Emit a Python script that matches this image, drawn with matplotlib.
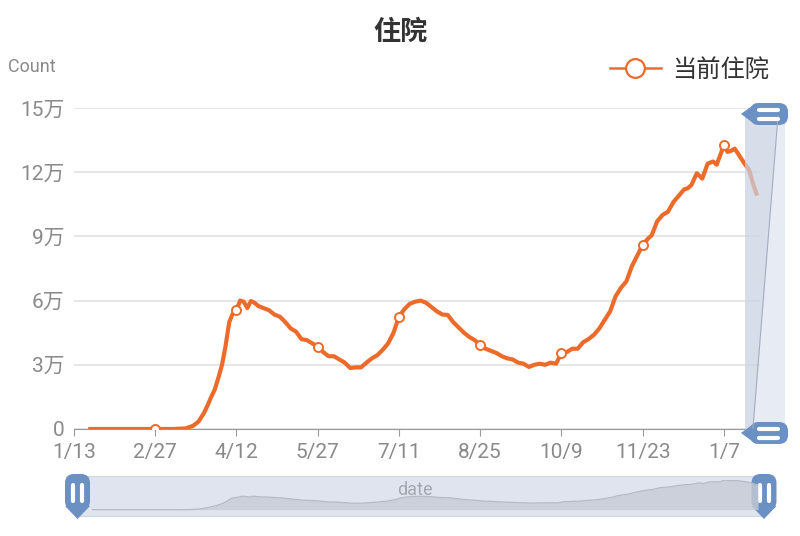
import datetime as dt
import matplotlib.pyplot as plt
from matplotlib.lines import Line2D
from matplotlib.patches import FancyBboxPatch, Rectangle, Polygon

plt.rcParams['font.family'] = ['Roboto', 'Noto Sans CJK SC', 'DejaVu Sans']

# days counted from 2020-01-13
start = dt.date(2020, 1, 13)
days = [9, 20, 30, 45, 55, 62, 66, 69, 72, 74, 76, 78, 80, 82, 84, 86, 88, 90,
        92, 94, 96, 98, 100, 102, 105, 108, 111, 114, 117, 120, 123, 126, 129,
        132, 135, 138, 141, 144, 147, 150, 153, 156, 159, 162, 165, 168, 171,
        174, 177, 180, 183, 186, 189, 192, 195, 198, 201, 204, 207, 210, 213,
        216, 219, 222, 225, 228, 231, 234, 237, 240, 243, 246, 249, 252, 255,
        258, 261, 264, 267, 270, 273, 276, 279, 282, 285, 288, 291, 294, 297,
        300, 303, 306, 309, 312, 315, 318, 320, 323, 326, 329, 332, 335, 338,
        340, 342, 345, 348, 351, 354, 356, 358, 360, 362, 364, 366, 368, 371,
        374, 376, 378]
hosp = [0, 0, 0, 0, 0, 300, 1500, 3500, 7500, 11000, 15000, 18500, 24000,
        30000, 39000, 50000, 54000, 55600, 60000, 59500, 56500, 59800, 59000,
        57500, 56500, 55500, 53500, 52500, 50000, 47000, 45500, 42000, 41500,
        40000, 38500, 36000, 34000, 34000, 32500, 31000, 28500, 28800, 28800,
        31000, 33000, 34500, 37000, 40000, 45000, 52500, 56000, 58500, 59500,
        60000, 59000, 57000, 55000, 53500, 53300, 50000, 47500, 45000, 43000,
        41500, 39300, 37500, 36500, 35500, 34000, 33000, 32500, 31000, 30500,
        29000, 30000, 30500, 30000, 31000, 30500, 35400, 36000, 37500, 37500,
        40500, 42000, 44000, 47000, 51000, 55000, 62000, 66000, 69000, 76000,
        81000, 86000, 89000, 90500, 97000, 100000, 101500, 106000, 109000,
        112000, 112500, 114000, 119500, 117000, 124000, 125000, 123500, 128000,
        132700, 129500, 130000, 131000, 128500, 124500, 121000, 115000, 110000]
marker_days = [45, 90, 135, 180, 225, 270, 315, 360]
tick_days = [0, 45, 90, 135, 180, 225, 270, 315, 360]
y_ticks = [0, 30000, 60000, 90000, 120000, 150000]
y_labels = ['0', '3万', '6万', '9万', '12万', '15万']

tick_labels = []
for d in tick_days:
    t = start + dt.timedelta(days=d)
    tick_labels.append(f"{t.month}/{t.day}")

W, H = 800, 536
orange = '#ec6b2a'
fig = plt.figure(figsize=(W / 100, H / 100), dpi=100)

ax = fig.add_axes([74 / W, 1 - 429 / H, (760 - 74) / W, (429 - 108) / H])
idx = [days.index(d) for d in marker_days]
ax.plot(days, hosp, color=orange, lw=3.0, solid_joinstyle='round',
        marker='o', markevery=idx, ms=6.5, mfc='white', mec=orange, mew=1.4,
        zorder=3)
ax.set_xlim(0, 380)
ax.set_ylim(0, 150000)
for s in ['top', 'right', 'left']:
    ax.spines[s].set_visible(False)
ax.spines['bottom'].set_color('#9a9a9a')
ax.set_yticks(y_ticks, y_labels)
ax.set_xticks(tick_days, tick_labels)
ax.tick_params(axis='y', length=0, pad=7, labelcolor='#8a8a8a', labelsize=15)
ax.tick_params(axis='x', length=5, color='#9a9a9a', pad=5,
               labelcolor='#8a8a8a', labelsize=15)
ax.grid(axis='y', color='#e2e2e2', lw=1.2)
ax.set_axisbelow(True)

fig.text(400 / W, 1 - 32 / H, '住院', ha='center', va='center', fontsize=19.5,
         weight='bold', color='#333333')
fig.text(8 / W, 1 - 67 / H, 'Count', ha='left', va='center', fontsize=13,
         color='#8a8a8a')

handle = Line2D([], [], color=orange, lw=1.8, marker='o', ms=13.5,
                mfc='white', mec=orange, mew=1.6)
fig.legend([handle], ['当前住院'], loc='center right',
           bbox_to_anchor=(781 / W, 1 - 70 / H), frameon=False, fontsize=17.5,
           handlelength=2.1, handletextpad=0.45, borderpad=0,
           labelcolor='#333333')

# overlay in pixel coordinates for the zoom sliders
ov = fig.add_axes([0, 0, 1, 1], zorder=5)
ov.set_xlim(0, W)
ov.set_ylim(H, 0)
ov.axis('off')
ov.patch.set_alpha(0)

blue = '#6a90c4'

# right vertical slider
ov.add_patch(Rectangle((745, 113), 40, 320, fc='#d8dfeb', ec='none', alpha=0.6))
ov.add_patch(Polygon([(745, 113), (778, 113), (753, 433), (745, 433)],
                     fc='#b7c0d2', ec='none', alpha=0.3))
ov.plot([778, 753], [116, 428], color='#a3acbf', lw=0.8)
for cy in (114, 433):
    ov.add_patch(FancyBboxPatch((750, cy - 11), 38, 22,
                                boxstyle='round,pad=0,rounding_size=9',
                                fc=blue, ec='none'))
    ov.add_patch(Polygon([(741, cy), (756, cy - 11), (756, cy + 11)],
                         fc=blue, ec='none'))
    for by in (cy - 4.5, cy + 4.5):
        ov.plot([759, 778], [by, by], color='white', lw=3,
                solid_capstyle='round')

# bottom slider
ov.add_patch(Rectangle((78, 476), 686, 40, fc='#dfe4ee', ec='#d0d7e3',
                       lw=0.8))
for cx in (77.5, 764):
    ov.add_patch(FancyBboxPatch((cx - 12.5, 474), 25, 36,
                                boxstyle='round,pad=0,rounding_size=9',
                                fc=blue, ec='none'))
    ov.add_patch(Polygon([(cx - 12.5, 506), (cx + 12.5, 506), (cx, 519)],
                         fc=blue, ec='none'))
    for bx in (cx - 4.5, cx + 4.5):
        ov.plot([bx, bx], [485, 501], color='white', lw=3,
                solid_capstyle='round')
ov.text(415, 490, 'date', ha='center', va='center', fontsize=13,
        color='#a3a7b0')

# data shadow inside the bottom slider
sh = fig.add_axes([92 / W, 1 - 511 / H, (758 - 92) / W, (511 - 480) / H],
                  zorder=6)
sh.fill_between(days, hosp, 0, color='#c6cbd5', alpha=0.8, lw=0)
sh.plot(days, hosp, color='#b4bac7', lw=0.9)
sh.set_xlim(days[0], days[-1])
sh.set_ylim(-6000, max(hosp))
sh.axis('off')
sh.patch.set_alpha(0)

fig.savefig('out.png', dpi=100)
